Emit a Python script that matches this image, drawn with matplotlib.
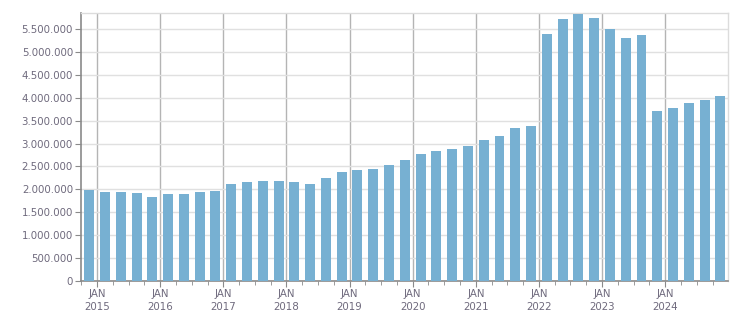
import matplotlib
matplotlib.use("Agg")
import matplotlib.pyplot as plt
from matplotlib.ticker import FuncFormatter, FixedLocator

years = [2015, 2016, 2017, 2018, 2019, 2020, 2021, 2022, 2023, 2024]
values = [1.99, 1.94, 1.94, 1.92, 1.83, 1.90, 1.90, 1.94, 1.96, 2.12,
          2.16, 2.18, 2.18, 2.16, 2.12, 2.25, 2.38, 2.42, 2.44, 2.53,
          2.64, 2.77, 2.84, 2.88, 2.95, 3.08, 3.17, 3.34, 3.39, 5.40,
          5.73, 5.84, 5.75, 5.51, 5.31, 5.38, 3.71, 3.78, 3.89, 3.95,
          4.04]
values = [v * 1e6 for v in values]
yticks = [i * 500000 for i in range(12)]

fig = plt.figure(figsize=(7.51, 3.13), dpi=100)
ax = fig.add_axes([81.3 / 751, 32.3 / 313, 647 / 751, 267.4 / 313])

x = list(range(len(values)))
ax.bar(x, values, width=0.63, color="#77b0d2", zorder=3)

ax.set_xlim(-0.5, len(values) - 0.5)
ax.set_ylim(0, 5.85e6)

ax.set_yticks(yticks)
ax.yaxis.set_major_formatter(FuncFormatter(lambda v, p: f"{int(v):,}".replace(",", ".")))

jan_pos = [0.5 + 4 * i for i in range(len(years))]
ax.xaxis.set_major_locator(FixedLocator(jan_pos))
ax.set_xticklabels([f"JAN\n{y}" for y in years])
ax.xaxis.set_minor_locator(FixedLocator([p + k for p in jan_pos for k in (1, 2, 3)] + [-0.5]))

ax.grid(axis="y", color="#e0e0e0", linewidth=1, zorder=0)
ax.grid(axis="x", which="major", color="#b4b4b4", linewidth=1, zorder=1)

for s in ("top", "right"):
    ax.spines[s].set_color("#dcdcdc")
    ax.spines[s].set_linewidth(1)
for s in ("left", "bottom"):
    ax.spines[s].set_color("#8a8a8a")
    ax.spines[s].set_linewidth(1.2)

ax.tick_params(axis="y", which="major", length=4, color="#8a8a8a", labelsize=7.4,
               labelcolor="#6f6a7d", pad=2)
ax.tick_params(axis="x", which="major", length=4, color="#8a8a8a", labelsize=7.4,
               labelcolor="#6f6a7d", pad=2)
ax.tick_params(axis="x", which="minor", length=3, color="#8a8a8a")
for lbl in ax.get_xticklabels():
    lbl.set_linespacing(1.35)

fig.savefig("out.png", dpi=100)
